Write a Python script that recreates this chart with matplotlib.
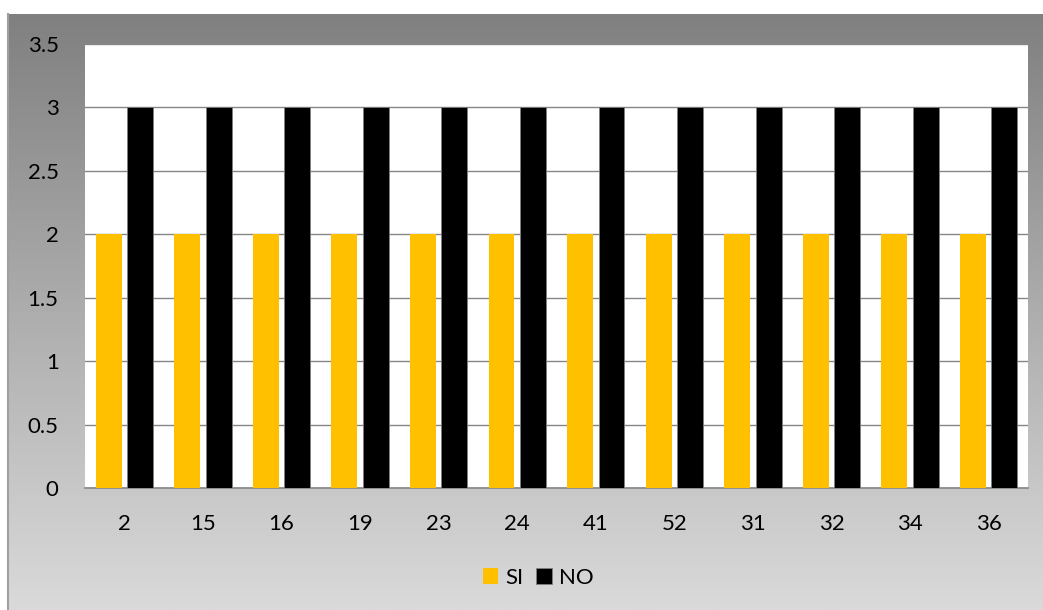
import matplotlib.pyplot as plt
import numpy as np

# category labels and series values
categories = ['2', '15', '16', '19', '23', '24', '41', '52', '31', '32', '34', '36']
si_values = [2, 2, 2, 2, 2, 2, 2, 2, 2, 2, 2, 2]
no_values = [3, 3, 3, 3, 3, 3, 3, 3, 3, 3, 3, 3]

plt.rcParams['font.family'] = ['Lato', 'DejaVu Sans']

W, H = 1043, 610
fig = plt.figure(figsize=(W / 100, H / 100), dpi=100)
fig.patch.set_facecolor('white')

# gray gradient chart background
bg = fig.add_axes([8 / W, 0, (W - 8) / W, (H - 14) / H])
grad = np.linspace(0, 1, 256).reshape(-1, 1)
bg.imshow(grad, aspect='auto', cmap=plt.matplotlib.colors.LinearSegmentedColormap.from_list(
    'bg', ['#808080', '#dadada']), extent=[0, 1, 0, 1])
bg.set_xticks([])
bg.set_yticks([])
for s in ['top', 'right', 'bottom']:
    bg.spines[s].set_visible(False)
bg.spines['left'].set_color('#a0a0a0')
bg.spines['left'].set_linewidth(1.5)

# plot area
ax = fig.add_axes([85 / W, (H - 488) / H, (1028 - 85) / W, (488 - 44) / H])
ax.set_facecolor('white')
x = np.arange(len(categories))
ax.bar(x - 0.2, si_values, width=0.33, color='#FFC000', label='SI', zorder=3)
ax.bar(x + 0.2, no_values, width=0.33, color='black', edgecolor='#7f7f7f',
       linewidth=0.6, label='NO', zorder=3)

ax.set_xlim(-0.5, len(categories) - 0.5)
ax.set_ylim(0, 3.5)
ax.set_yticks(np.arange(0, 3.51, 0.5))
ax.set_yticklabels(['0', '0.5', '1', '1.5', '2', '2.5', '3', '3.5'])
ax.set_xticks(x)
ax.set_xticklabels(categories)
ax.tick_params(length=0, labelsize=16, colors='black')
ax.tick_params(axis='y', pad=19)
ax.tick_params(axis='x', pad=19)
ax.yaxis.grid(True, color='#868686', linewidth=1, zorder=0)
for s in ['top', 'right', 'left']:
    ax.spines[s].set_visible(False)
ax.spines['bottom'].set_color('#868686')
ax.spines['bottom'].set_linewidth(1.2)

fig.legend(loc='center', bbox_to_anchor=(538 / W, 1 - 578 / H), ncol=2,
           frameon=False, fontsize=16, handlelength=0.7, handleheight=0.7,
           handletextpad=0.3, columnspacing=0.6)

fig.savefig('out.png', dpi=100)
